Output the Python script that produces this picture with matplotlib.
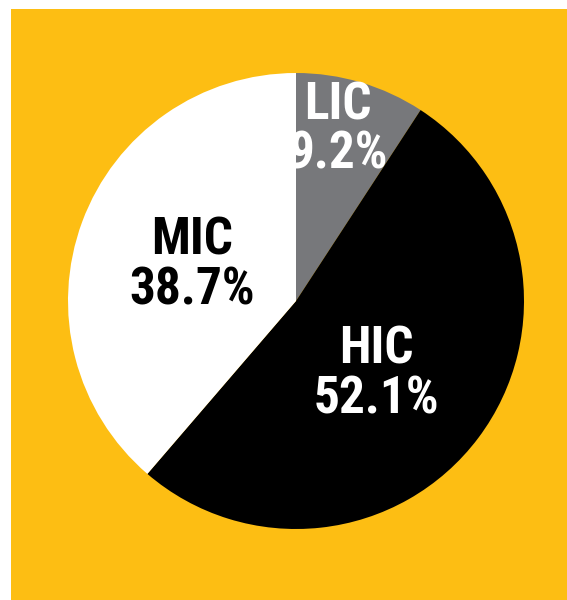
import matplotlib
matplotlib.use("Agg")
import matplotlib.pyplot as plt
from matplotlib.patches import Rectangle

# Colours
ORANGE = "#FDBE13"
GREY = "#77787B"
BLACK = "#000000"
WHITE = "#FFFFFF"

labels = ["LIC", "HIC", "MIC"]
shares = [9.2, 52.1, 38.7]
colors = [GREY, BLACK, WHITE]
text_colors = [WHITE, WHITE, BLACK]
label_pos = [(0.186, 0.75), (0.351, -0.322), (-0.454, 0.156)]

FONT = ["Roboto Condensed", "Archivo Narrow", "DejaVu Sans"]

fig = plt.figure(figsize=(5.67, 6.0), dpi=100, facecolor="white")
# orange panel, white margin on the left and top
fig.patches.append(Rectangle((11 / 567, 0), 1 - 11 / 567, 591 / 600,
                             transform=fig.transFigure, facecolor=ORANGE,
                             edgecolor="none", zorder=-1))

ax = fig.add_axes([68 / 567, 71 / 600, 456 / 567, 456 / 600])
ax.pie(shares, colors=colors, startangle=90, counterclock=False,
       wedgeprops=dict(linewidth=0))
ax.set_xlim(-1, 1)
ax.set_ylim(-1, 1)
ax.set_aspect("auto")
ax.axis("off")

for lab, val, tc, (x, y) in zip(labels, shares, text_colors, label_pos):
    ax.text(x, y, f"{lab}\n{val}%", ha="center", va="center",
            color=tc, fontsize=37, fontweight="bold", family=FONT,
            linespacing=0.98)

fig.savefig("out.png", dpi=100, facecolor="white")
